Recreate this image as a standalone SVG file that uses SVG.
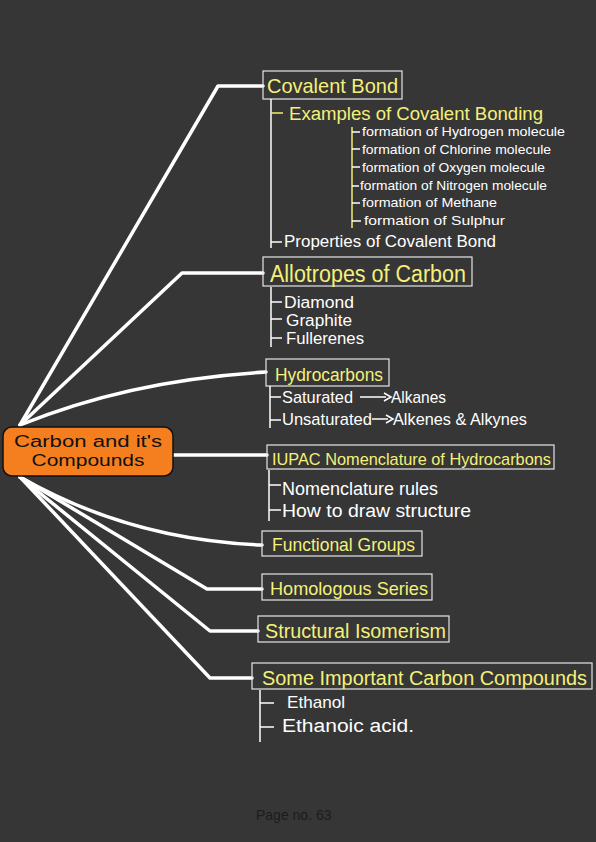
<svg xmlns="http://www.w3.org/2000/svg" width="596" height="842" viewBox="0 0 596 842">
<style>
.bg{fill:#363636}
.conn{fill:none;stroke:#ffffff;stroke-width:3.5;stroke-linejoin:round;stroke-linecap:round}
.box{fill:none;stroke:#e6e6e6;stroke-width:1.2}
.tree{fill:none;stroke:#ffffff;stroke-width:1.5}
.ytree{fill:none;stroke:#f2ee70;stroke-width:1.5}
.h{fill:#f4f07a;font-family:"Liberation Sans Narrow","Liberation Sans",sans-serif}
.w{fill:#ffffff;font-family:"Liberation Sans Narrow","Liberation Sans",sans-serif}
.c{fill:#111111;font-family:"Liberation Sans","DejaVu Sans",sans-serif}
.pg{fill:#1c1c1c;font-family:"Liberation Sans",Arial,sans-serif;font-size:14px}
</style>
<rect class="bg" x="0" y="0" width="596" height="842"/>

<g id="connectors">
<polyline class="conn" points="20,425 218,86 263,86"/>
<polyline class="conn" points="20,425 182,273 263,273"/>
<path class="conn" d="M20,425 Q130,380 266,372"/>
<line class="conn" x1="173" y1="455" x2="267" y2="455"/>
<path class="conn" d="M20,477 Q130,540 262,545"/>
<polyline class="conn" points="20,477 207,589 262,589"/>
<polyline class="conn" points="20,477 210,631 258,631"/>
<polyline class="conn" points="20,477 210,678 252,678"/>
</g>

<g id="root">
<rect x="3" y="427" width="170" height="49" rx="9" fill="#f57f1f" stroke="#111" stroke-width="1.5"/>
<text class="c" x="88" y="447" font-size="16" text-anchor="middle" textLength="148" lengthAdjust="spacingAndGlyphs">Carbon and it's</text>
<text class="c" x="88" y="466" font-size="16" text-anchor="middle" textLength="113" lengthAdjust="spacingAndGlyphs">Compounds</text>
</g>

<g id="covalent-bond">
<rect class="box" x="263" y="71" width="139" height="28"/>
<text class="h" x="267" y="93" font-size="21" textLength="131" lengthAdjust="spacingAndGlyphs">Covalent Bond</text>
<polyline class="tree" points="271,99 271,248"/>
<line class="ytree" x1="271" y1="113" x2="283" y2="113"/>
<line class="tree" x1="271" y1="242" x2="282" y2="242"/>
<text class="h" x="289" y="120" font-size="18" textLength="254" lengthAdjust="spacingAndGlyphs">Examples of Covalent Bonding</text>
<line class="ytree" x1="352" y1="127" x2="352" y2="228"/>
<g class="tree">
<line x1="352" y1="132" x2="360" y2="132"/>
<line x1="352" y1="149" x2="360" y2="149"/>
<line x1="352" y1="167" x2="360" y2="167"/>
<line x1="352" y1="186" x2="359" y2="186"/>
<line x1="352" y1="203" x2="360" y2="203"/>
<line x1="352" y1="221" x2="361" y2="221"/>
</g>
<text class="w" x="362" y="136" font-size="13" textLength="203" lengthAdjust="spacingAndGlyphs">formation of Hydrogen molecule</text>
<text class="w" x="362" y="154" font-size="13" textLength="189" lengthAdjust="spacingAndGlyphs">formation of Chlorine molecule</text>
<text class="w" x="362" y="172" font-size="13" textLength="183" lengthAdjust="spacingAndGlyphs">formation of Oxygen molecule</text>
<text class="w" x="360" y="190" font-size="13" textLength="187" lengthAdjust="spacingAndGlyphs">formation of Nitrogen molecule</text>
<text class="w" x="362" y="207" font-size="13" textLength="135" lengthAdjust="spacingAndGlyphs">formation of Methane</text>
<text class="w" x="364" y="225" font-size="13" textLength="141" lengthAdjust="spacingAndGlyphs">formation of Sulphur</text>
<text class="w" x="284" y="247" font-size="16" textLength="212" lengthAdjust="spacingAndGlyphs">Properties of Covalent Bond</text>
</g>

<g id="allotropes">
<rect class="box" x="263" y="257" width="209" height="29"/>
<text class="h" x="270" y="282" font-size="23" textLength="196" lengthAdjust="spacingAndGlyphs">Allotropes of Carbon</text>
<line class="tree" x1="271" y1="287" x2="271" y2="347"/>
<line class="tree" x1="271" y1="302" x2="282" y2="302"/>
<line class="tree" x1="271" y1="319" x2="282" y2="319"/>
<line class="tree" x1="271" y1="338" x2="282" y2="338"/>
<text class="w" x="284" y="308" font-size="16" textLength="70" lengthAdjust="spacingAndGlyphs">Diamond</text>
<text class="w" x="286" y="326" font-size="16" textLength="66" lengthAdjust="spacingAndGlyphs">Graphite</text>
<text class="w" x="286" y="344" font-size="16" textLength="78" lengthAdjust="spacingAndGlyphs">Fullerenes</text>
</g>

<g id="hydrocarbons">
<rect class="box" x="266" y="359" width="123" height="27"/>
<text class="h" x="275" y="381" font-size="18" textLength="108" lengthAdjust="spacingAndGlyphs">Hydrocarbons</text>
<line class="tree" x1="270" y1="386" x2="270" y2="428"/>
<line class="tree" x1="270" y1="397" x2="281" y2="397"/>
<line class="tree" x1="270" y1="420" x2="281" y2="420"/>
<text class="w" x="282" y="403" font-size="17" textLength="71" lengthAdjust="spacingAndGlyphs">Saturated</text>
<line class="tree" x1="360" y1="397" x2="386" y2="397"/>
<path d="M384,393 L391,397 L384,401" fill="none" stroke="#fff" stroke-width="1.5"/>
<text class="w" x="391" y="403" font-size="17" textLength="55" lengthAdjust="spacingAndGlyphs">Alkanes</text>
<text class="w" x="282" y="425" font-size="17" textLength="90" lengthAdjust="spacingAndGlyphs">Unsaturated</text>
<line class="tree" x1="372" y1="419" x2="388" y2="419"/>
<path d="M386,415 L393,419 L386,423" fill="none" stroke="#fff" stroke-width="1.5"/>
<text class="w" x="393" y="425" font-size="17" textLength="134" lengthAdjust="spacingAndGlyphs">Alkenes &amp; Alkynes</text>
</g>

<g id="iupac">
<rect class="box" x="267" y="445" width="287" height="24"/>
<text class="h" x="272" y="465" font-size="17" textLength="279" lengthAdjust="spacingAndGlyphs">IUPAC Nomenclature of Hydrocarbons</text>
<line class="tree" x1="269" y1="470" x2="269" y2="521"/>
<line class="tree" x1="269" y1="485" x2="281" y2="485"/>
<line class="tree" x1="269" y1="510" x2="281" y2="510"/>
<text class="w" x="282" y="495" font-size="18" textLength="156" lengthAdjust="spacingAndGlyphs">Nomenclature rules</text>
<text class="w" x="282" y="517" font-size="18" textLength="189" lengthAdjust="spacingAndGlyphs">How to draw structure</text>
</g>

<g id="functional-groups">
<rect class="box" x="262" y="531" width="160" height="25"/>
<text class="h" x="272" y="551" font-size="19" textLength="143" lengthAdjust="spacingAndGlyphs">Functional Groups</text>
</g>

<g id="homologous-series">
<rect class="box" x="262" y="574" width="170" height="26"/>
<text class="h" x="270" y="595" font-size="19" textLength="158" lengthAdjust="spacingAndGlyphs">Homologous Series</text>
</g>

<g id="structural-isomerism">
<rect class="box" x="258" y="616" width="191" height="26"/>
<text class="h" x="265" y="638" font-size="20" textLength="181" lengthAdjust="spacingAndGlyphs">Structural Isomerism</text>
</g>

<g id="important-compounds">
<rect class="box" x="252" y="663" width="340" height="26"/>
<text class="h" x="262" y="685" font-size="20" textLength="325" lengthAdjust="spacingAndGlyphs">Some Important Carbon Compounds</text>
<line class="tree" x1="260" y1="690" x2="260" y2="742"/>
<line class="tree" x1="260" y1="703" x2="274" y2="703"/>
<line class="tree" x1="260" y1="727" x2="274" y2="727"/>
<text class="w" x="287" y="708" font-size="17" textLength="58" lengthAdjust="spacingAndGlyphs">Ethanol</text>
<text class="w" x="282" y="732" font-size="18" textLength="132" lengthAdjust="spacingAndGlyphs">Ethanoic acid.</text>
</g>

<text class="pg" x="256" y="820">Page no. 63</text>
</svg>
